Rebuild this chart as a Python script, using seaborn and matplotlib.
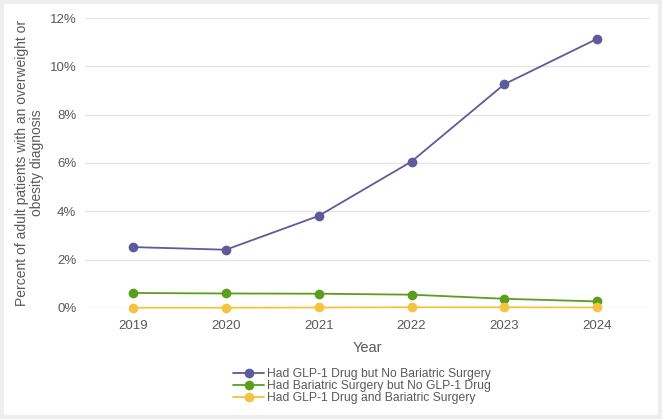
import pandas as pd
import matplotlib.pyplot as plt
import seaborn as sns
from matplotlib.ticker import FuncFormatter

# data (percent)
years = [2019, 2020, 2021, 2022, 2023, 2024]
glp1_only = [2.52, 2.41, 3.81, 6.06, 9.26, 11.14]
surgery_only = [0.62, 0.60, 0.59, 0.55, 0.38, 0.27]
both = [0.01, 0.01, 0.02, 0.03, 0.03, 0.02]

labels = ['Had GLP-1 Drug but No Bariatric Surgery',
          'Had Bariatric Surgery but No GLP-1 Drug',
          'Had GLP-1 Drug and Bariatric Surgery']
colors = ['#5d5b9b', '#5b9e1e', '#f5c342']

df = pd.DataFrame({'Year': years * 3,
                   'Value': glp1_only + surgery_only + both,
                   'Group': [labels[0]] * 6 + [labels[1]] * 6 + [labels[2]] * 6})

sns.set_style('white')
plt.rcParams['font.family'] = ['Liberation Sans', 'DejaVu Sans']
txt = '#595959'

fig = plt.figure(figsize=(6.62, 4.19), dpi=100)
ax = fig.add_axes([0.128, 0.265, 0.854, 0.692])

sns.lineplot(data=df, x='Year', y='Value', hue='Group', hue_order=labels,
             palette=colors, marker='o', markersize=7, markeredgewidth=0,
             linewidth=1.3, ax=ax, clip_on=False, zorder=3)

ax.set_ylim(0, 12)
ax.set_xlim(2019 - 0.52, 2024 + 0.57)
ax.set_yticks(range(0, 13, 2))
ax.set_xticks(years)
ax.yaxis.set_major_formatter(FuncFormatter(lambda v, p: f'{v:.0f}%'))
ax.grid(axis='y', color='#e6e6e6', linewidth=1)
for s in ax.spines.values():
    s.set_visible(False)
ax.tick_params(colors=txt, labelsize=9.5, length=0)
ax.tick_params(axis='x', pad=9)
ax.tick_params(axis='y', pad=6)

ax.set_xlabel('Year', color=txt, fontsize=10.5, labelpad=6)
ax.set_ylabel('Percent of adult patients with an overweight or\nobesity diagnosis',
              color=txt, fontsize=10, labelpad=4, linespacing=1.1)

ax.legend(loc='upper center', bbox_to_anchor=(0.49, -0.19), frameon=False,
          fontsize=8.7, labelcolor=txt, handlelength=2.6, handletextpad=0.2,
          labelspacing=0.0, borderaxespad=0)

# light frame around the figure
fig.patches.append(plt.Rectangle((0, 0), 1, 1, transform=fig.transFigure,
                                 fill=False, edgecolor='#eeeeee', linewidth=6))

fig.savefig('out.png', dpi=100)
